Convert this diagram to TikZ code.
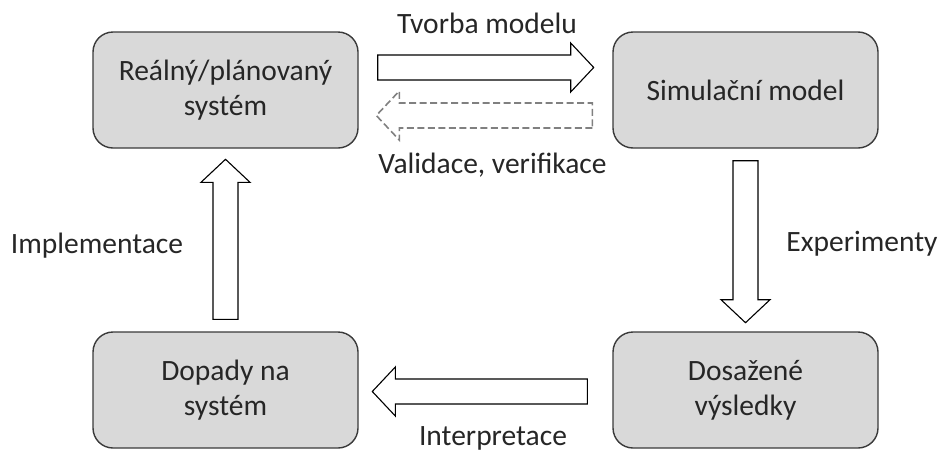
\documentclass[tikz,border=0pt]{standalone}
\usepackage{fontspec}
\setmainfont{Carlito}
\usetikzlibrary{calc}
\definecolor{boxfill}{HTML}{D9D9D9}
\definecolor{boxline}{HTML}{3A3A3A}
\definecolor{txt}{HTML}{262626}
\definecolor{dashgray}{HTML}{808080}
\tikzset{
  stage/.style={draw=boxline, line width=1.4pt, fill=boxfill, rounded corners=20pt,
    minimum width=265pt, minimum height=116pt, align=center, text=txt,
    font=\fontsize{29.5}{35.4}\selectfont, inner sep=0pt},
  lbl/.style={text=txt, font=\fontsize{29.5}{35.4}\selectfont, inner sep=0pt},
  blockarr/.style={draw=black, line width=1.1pt, fill=white, line join=miter},
  blockarrdash/.style={draw=dashgray, line width=1.6pt, fill=white, dash pattern=on 7pt off 3.5pt}
}
% block arrow: [style]{tail}{angle}{length}
\newcommand\blockarrow[4][blockarr]{%
  \begin{scope}[shift={(#2)}, rotate=#3]
    \draw[#1] (0,-12.5) -- ({#4-23},-12.5) -- ({#4-23},-24.5) -- (#4,0)
      -- ({#4-23},24.5) -- ({#4-23},12.5) -- (0,12.5) -- cycle;
  \end{scope}}
\begin{document}
\begin{tikzpicture}[x=1pt, y=-1pt]
  \useasboundingbox (0,0) rectangle (939,453);

  \node[stage] (real) at (225.5,90) {Reálný/plánovaný\\systém};
  \node[stage] (sim)  at (745.5,90) {Simulační model};
  \node[stage] (imp)  at (225.5,390) {Dopady na\\systém};
  \node[stage] (res)  at (745.5,390) {Dosažené\\výsledky};

  % anchor points of the block arrows
  \coordinate (tvA) at ($(real.east)+(19pt,22.5pt)$);
  \coordinate (vaA) at ($(sim.west)+(-20pt,-25.5pt)$);
  \coordinate (exA) at ($(sim.south)+(0,-12pt)$);
  \coordinate (inA) at ($(res.west)+(-25pt,-1.5pt)$);
  \coordinate (imA) at ($(imp.north)+(0,12pt)$);

  \blockarrow{tvA}{0}{216}
  \blockarrow[blockarrdash]{vaA}{180}{216}
  \blockarrow{exA}{-90}{162}
  \blockarrow{inA}{180}{215}
  \blockarrow{imA}{90}{160}

  \node[lbl] (tvorba) at (487,23) {Tvorba modelu};
  \node[lbl] (valid)  at (492.5,165.5) {Validace, verifikace};
  \node[lbl] (implem) at (97,246) {Implementace};
  \node[lbl] (exper)  at (862,244) {Experimenty};
  \node[lbl] (interp) at (493,438.5) {Interpretace};
\end{tikzpicture}
\end{document}
